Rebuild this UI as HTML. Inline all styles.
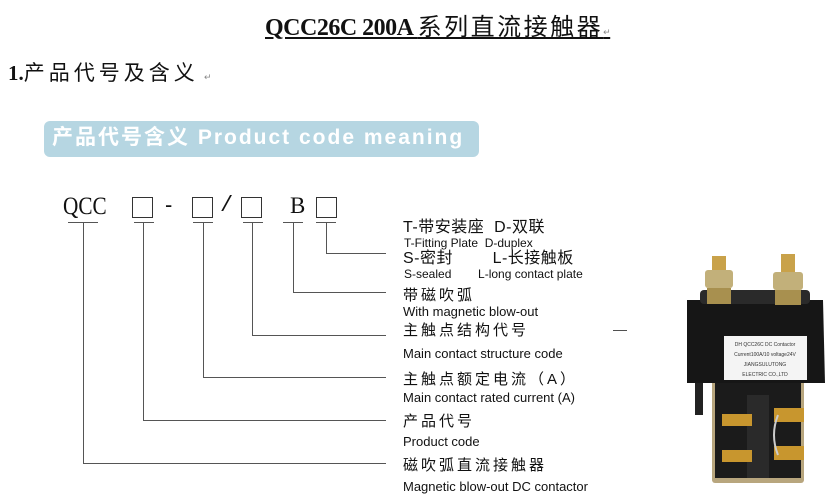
<!DOCTYPE html>
<html><head><meta charset="utf-8"><style>
body{margin:0;width:840px;height:496px;background:#fff;position:relative;overflow:hidden;font-family:"Liberation Sans","Noto Sans CJK SC",sans-serif;color:#111}
.a{position:absolute;white-space:nowrap;line-height:1}
.cn{font-size:15px;letter-spacing:3px}
.en{font-size:13px}
.b{position:absolute;background:#555}
.box{position:absolute;border:1.3px solid #333;width:19px;height:19px;top:197px}
</style></head><body>
<div class="a" style="left:265px;top:13px;font-family:'Liberation Serif','Noto Serif CJK SC',serif;font-size:24px;font-weight:bold;text-decoration:underline;letter-spacing:-0.5px">QCC26C 200A <span style="font-weight:normal;font-family:'Noto Sans CJK SC',sans-serif;letter-spacing:2.5px">系列直流接触器</span><span style="font-size:9px;color:#888;font-weight:normal">↵</span></div>
<div class="a" style="left:8px;top:63px;font-size:21px;font-family:'Liberation Serif','Noto Sans CJK SC',serif"><b>1.</b><span style="letter-spacing:4px">产品代号及含义</span> <span style="font-size:9px;color:#888">↵</span></div>
<div style="position:absolute;left:44px;top:121px;width:435px;height:36px;background:#b6d6e2;border-radius:6px"></div>
<div class="a" style="left:52px;top:127px;font-size:21px;font-weight:bold;color:#fff;letter-spacing:2px">产品代号含义 Product code meaning</div>
<div class="a" style="left:63px;top:194px;font-size:25px;font-family:'Liberation Serif',serif;transform:scaleX(0.85);transform-origin:left">QCC</div>
<div class="box" style="left:132px"></div>
<div class="a" style="left:165px;top:194px;font-size:22px">-</div>
<div class="box" style="left:192px"></div>
<div class="a" style="left:220px;top:195px;font-size:22px;font-family:'Liberation Mono',monospace">/</div>
<div class="box" style="left:241px"></div>
<div class="a" style="left:290px;top:194px;font-size:23px;font-family:'Liberation Serif',serif">B</div>
<div class="box" style="left:316px"></div>
<div class="b" style="left:68px;top:222px;width:30px;height:1px"></div>
<div class="b" style="left:83px;top:222px;width:1px;height:241px"></div>
<div class="b" style="left:83px;top:463px;width:303px;height:1px"></div>
<div class="b" style="left:134px;top:222px;width:20px;height:1px"></div>
<div class="b" style="left:143px;top:222px;width:1px;height:198px"></div>
<div class="b" style="left:143px;top:420px;width:243px;height:1px"></div>
<div class="b" style="left:193px;top:222px;width:20px;height:1px"></div>
<div class="b" style="left:203px;top:222px;width:1px;height:155px"></div>
<div class="b" style="left:203px;top:377px;width:183px;height:1px"></div>
<div class="b" style="left:243px;top:222px;width:20px;height:1px"></div>
<div class="b" style="left:252px;top:222px;width:1px;height:113px"></div>
<div class="b" style="left:252px;top:335px;width:134px;height:1px"></div>
<div class="b" style="left:283px;top:222px;width:20px;height:1px"></div>
<div class="b" style="left:293px;top:222px;width:1px;height:70px"></div>
<div class="b" style="left:293px;top:292px;width:93px;height:1px"></div>
<div class="b" style="left:316px;top:222px;width:20px;height:1px"></div>
<div class="b" style="left:326px;top:222px;width:1px;height:31px"></div>
<div class="b" style="left:326px;top:253px;width:60px;height:1px"></div>
<div class="a" style="left:403px;top:220px;font-size:16px;letter-spacing:0.5px">T-带安装座 &nbsp;D-双联</div>
<div class="a" style="left:404px;top:237px;font-size:12px">T-Fitting Plate &nbsp;D-duplex</div>
<div class="a" style="left:403px;top:251px;font-size:16px;letter-spacing:0.5px">S-密封 &nbsp;&nbsp;&nbsp;&nbsp;&nbsp;&nbsp;&nbsp;L-长接触板</div>
<div class="a" style="left:404px;top:268px;font-size:12px">S-sealed &nbsp;&nbsp;&nbsp;&nbsp;&nbsp;&nbsp;&nbsp;L-long contact plate</div>
<div class="a cn" style="left:403px;top:288px">带磁吹弧</div>
<div class="a en" style="left:403px;top:305px">With magnetic blow-out</div>
<div class="a cn" style="left:403px;top:323px">主触点结构代号</div>
<div class="a" style="left:613px;top:322px;font-size:14px;color:#444">—</div>
<div class="a en" style="left:403px;top:347px">Main contact structure code</div>
<div class="a cn" style="left:403px;top:372px">主触点额定电流（A）</div>
<div class="a en" style="left:403px;top:391px">Main contact rated current (A)</div>
<div class="a cn" style="left:403px;top:414px">产品代号</div>
<div class="a en" style="left:403px;top:435px">Product code</div>
<div class="a cn" style="left:403px;top:458px">磁吹弧直流接触器</div>
<div class="a en" style="left:403px;top:480px">Magnetic blow-out DC contactor</div>
<svg style="position:absolute;left:660px;top:250px" width="180" height="246">
<rect x="52" y="130" width="92" height="103" rx="3" fill="#b8a67e"/>
<rect x="55" y="130" width="86" height="98" fill="#1b1b1b"/>
<rect x="87" y="145" width="22" height="83" fill="#2a2a2a"/>
<rect x="35" y="105" width="8" height="60" fill="#222"/>
<path d="M27 50 L163 50 L165 133 L27 133 Z" fill="#161616"/>
<rect x="40" y="40" width="110" height="14" rx="4" fill="#2a2a2a"/>
<rect x="64" y="86" width="83" height="44" fill="#f4f4f4"/>
<text x="105" y="96" font-size="5" text-anchor="middle" fill="#333" font-family="Liberation Sans">DH QCC26C DC Contactor</text>
<text x="105" y="106" font-size="5" text-anchor="middle" fill="#333" font-family="Liberation Sans">Current100A/10 voltage24V</text>
<text x="105" y="116" font-size="5" text-anchor="middle" fill="#333" font-family="Liberation Sans">JIANGSULUTONG</text>
<text x="105" y="126" font-size="5" text-anchor="middle" fill="#333" font-family="Liberation Sans">ELECTRIC CO.,LTD</text>
<rect x="52" y="6" width="14" height="20" fill="#c9a24a"/>
<rect x="45" y="20" width="28" height="18" rx="3" fill="#c2b07a"/>
<rect x="47" y="38" width="24" height="16" fill="#a8904f"/>
<rect x="121" y="4" width="14" height="22" fill="#c9a24a"/>
<rect x="113" y="22" width="30" height="18" rx="3" fill="#c2b07a"/>
<rect x="115" y="40" width="26" height="15" fill="#a8904f"/>
<rect x="62" y="164" width="30" height="12" fill="#c8962e"/>
<rect x="62" y="200" width="30" height="12" fill="#c8962e"/>
<rect x="114" y="158" width="30" height="14" fill="#c8962e"/>
<rect x="114" y="196" width="30" height="14" fill="#c8962e"/>
<path d="M118 165 Q110 185 118 205" stroke="#ccc" stroke-width="2" fill="none"/>
</svg>
</body></html>
